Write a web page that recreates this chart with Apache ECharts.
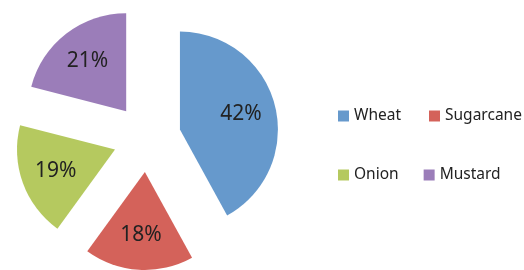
<!DOCTYPE html>
<html><head><meta charset="utf-8">
<script src="https://cdn.jsdelivr.net/npm/echarts@6/dist/echarts.min.js"></script>
<style>html,body{margin:0;padding:0;background:#fff}#c{width:524px;height:270px}</style>
</head><body><div id="c"></div>
<script>
const categories = ['Wheat', 'Sugarcane', 'Onion', 'Mustard'];
const values = [42, 18, 19, 21];
const colors = ['#6699CC', '#D4625A', '#B5C95F', '#9B7DB9'];

const chart = echarts.init(document.getElementById('c'), null, {renderer: 'canvas'});
const FONT = '"Noto Sans", "Open Sans", sans-serif';
const sliceData = categories.map((n, i) => ({name: n, value: values[i], selected: true, itemStyle: {color: colors[i]}}));
const labelData = categories.map((n, i) => ({name: n, value: values[i], selected: true}));
const legendText = {fontFamily: FONT, fontSize: 15.5, color: '#222'};
chart.setOption({
  animation: false,
  backgroundColor: '#fff',
  legend: [
    {data: ['Wheat', 'Sugarcane'], left: 338, top: 108, padding: 0, orient: 'horizontal', itemGap: 28, itemWidth: 11, itemHeight: 11, icon: 'rect', selectedMode: false,
     textStyle: legendText},
    {data: ['Onion', 'Mustard'], left: 338, top: 167, padding: 0, orient: 'horizontal', itemGap: 25, itemWidth: 11, itemHeight: 11, icon: 'rect', selectedMode: false,
     textStyle: legendText}
  ],
  series: [
    {
      type: 'pie', center: [147, 138], radius: [0, 98], startAngle: 90, clockwise: true,
      selectedMode: 'multiple', selectedOffset: 34,
      label: {show: false}, labelLine: {show: false},
      emphasis: {disabled: true},
      data: sliceData
    },
    {
      type: 'pie', center: [147, 138], radius: [22, 98], startAngle: 90, clockwise: true,
      selectedMode: 'multiple', selectedOffset: 34, silent: true,
      itemStyle: {color: 'rgba(0,0,0,0)'},
      label: {show: true, position: 'inside', formatter: '{c}%', fontFamily: FONT, fontSize: 21, color: '#222'},
      labelLine: {show: false},
      emphasis: {disabled: true},
      data: labelData
    }
  ]
});
</script></body></html>
